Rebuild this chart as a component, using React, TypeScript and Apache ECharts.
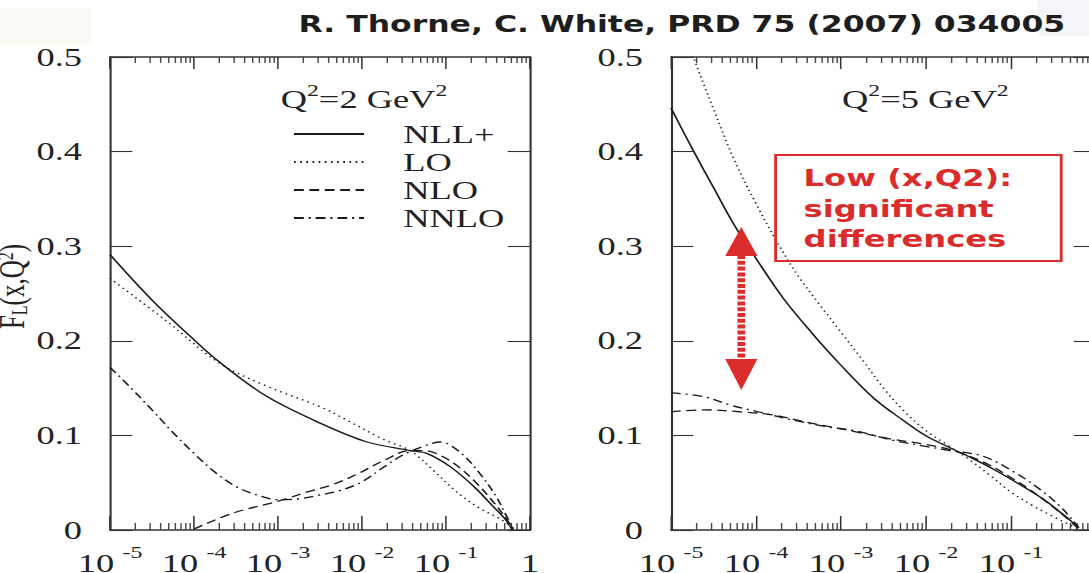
import React, { useEffect, useRef } from "react";
import * as echarts from "echarts";

// The reference image is horizontally stretched; we draw in an unstretched frame and scale it.
const STRETCH = 1.4;
const CHART_W = 1089 / STRETCH;
const CHART_H = 573;

const SERIF = "'Liberation Serif', 'Times New Roman', serif";
const INK = "#1b1b1b";
const RED = "#dc2b2b";

const seriesNames = ["NLL+", "LO", "NLO", "NNLO"];
const titleText = "R. Thorne, C. White, PRD 75 (2007) 034005";
const noteLines = ["Low (x,Q2):", "significant", "differences"];
const panelQ2 = ["2", "5"];

// ---------- Q^2 = 2 GeV^2 ----------
const q2a_NLL_x = [1e-5, 3.16e-5, 1e-4, 2.04e-4, 7.41e-4, 3.16e-3, 1.15e-2, 3.72e-2, 5.89e-2, 0.112, 0.214, 0.363, 0.501, 0.617];
const q2a_NLL_y = [0.291, 0.243, 0.201, 0.177, 0.141, 0.113, 0.093, 0.084, 0.081, 0.067, 0.046, 0.025, 0.012, 0.0];

const q2a_LO_x = [1e-5, 4.68e-5, 2.04e-4, 7.41e-4, 3.24e-3, 6.03e-3, 1.78e-2, 3.72e-2, 7.08e-2, 0.135, 0.251, 0.437, 0.631];
const q2a_LO_y = [0.266, 0.221, 0.176, 0.152, 0.13, 0.118, 0.096, 0.084, 0.063, 0.04, 0.023, 0.012, 0.002];

const q2a_NLO_x = [1e-4, 2.95e-4, 1.05e-3, 2.19e-3, 4.47e-3, 8.71e-3, 1.78e-2, 3.72e-2, 5.62e-2, 8.51e-2, 0.135, 0.234, 0.363, 0.501, 0.631];
const q2a_NLO_y = [0.001, 0.018, 0.031, 0.04, 0.048, 0.059, 0.073, 0.084, 0.084, 0.079, 0.068, 0.049, 0.03, 0.014, 0.001];

const q2a_NNLO_x = [1e-5, 1.78e-5, 3.16e-5, 5.62e-5, 1e-4, 1.78e-4, 3.16e-4, 5.62e-4, 1e-3, 1.78e-3, 3.16e-3, 5.62e-3, 1e-2, 1.78e-2, 3.16e-2, 5.62e-2, 8.51e-2, 0.148, 0.251, 0.398, 0.501, 0.631];
const q2a_NNLO_y = [0.172, 0.15, 0.127, 0.103, 0.081, 0.061, 0.046, 0.037, 0.032, 0.033, 0.037, 0.042, 0.051, 0.066, 0.08, 0.089, 0.093, 0.082, 0.06, 0.035, 0.018, 0.002];

// ---------- Q^2 = 5 GeV^2 ----------
const q2b_NLL_x = [1e-5, 1.78e-5, 3.16e-5, 5.5e-5, 1e-4, 2.09e-4, 4.47e-4, 9.55e-4, 2.45e-3, 5.37e-3, 1.02e-2, 1.91e-2, 3.47e-2, 6.31e-2, 0.112, 0.186, 0.282, 0.389, 0.501, 0.617];
const q2b_NLL_y = [0.446, 0.403, 0.362, 0.323, 0.287, 0.245, 0.209, 0.176, 0.139, 0.116, 0.099, 0.087, 0.076, 0.064, 0.051, 0.039, 0.028, 0.018, 0.01, 0.002];

const q2b_LO_x = [1e-5, 1.78e-5, 3.16e-5, 5.62e-5, 1e-4, 1.78e-4, 3.16e-4, 5.62e-4, 1e-3, 1.78e-3, 3.16e-3, 5.62e-3, 1e-2, 1.78e-2, 3.16e-2, 5.62e-2, 0.1, 0.178, 0.316, 0.501, 0.631];
const q2b_LO_y = [0.565, 0.503, 0.445, 0.39, 0.345, 0.304, 0.268, 0.238, 0.209, 0.18, 0.15, 0.125, 0.105, 0.09, 0.075, 0.058, 0.04, 0.026, 0.014, 0.005, 0.001];

const q2b_NLO_x = [1e-5, 2.4e-5, 6.46e-5, 1.48e-4, 4.47e-4, 1.45e-3, 3.98e-3, 9.12e-3, 1.91e-2, 4.68e-2, 0.115, 0.234, 0.407, 0.631];
const q2b_NLO_y = [0.125, 0.127, 0.125, 0.122, 0.113, 0.104, 0.096, 0.091, 0.085, 0.072, 0.052, 0.033, 0.016, 0.001];

const q2b_NNLO_x = [1e-5, 2.4e-5, 5.01e-5, 1.05e-4, 2.82e-4, 6.92e-4, 1.45e-3, 3.98e-3, 9.12e-3, 1.91e-2, 4.68e-2, 0.115, 0.234, 0.407, 0.631];
const q2b_NNLO_y = [0.145, 0.141, 0.132, 0.125, 0.116, 0.109, 0.105, 0.095, 0.089, 0.084, 0.078, 0.06, 0.041, 0.022, 0.002];

// minor tick positions of the log axis (2..9 x each decade)
const minorMultipliers = [2, 3, 4, 5, 6, 7, 8, 9];
const decades = [1e-5, 1e-4, 1e-3, 1e-2, 1e-1];
const minorTickX: number[] = [];
decades.forEach((d) => minorMultipliers.forEach((m) => minorTickX.push(m * d)));

const lineTypes: Record<string, any> = {
  "NLL+": "solid",
  LO: [1.2, 3.2],
  NLO: [7, 4],
  NNLO: [7, 3.5, 1.5, 3.5],
};

const zip = (xs: number[], ys: number[]) => xs.map((x, i) => [x, ys[i]]);

const panels = [
  [
    ["NLL+", q2a_NLL_x, q2a_NLL_y],
    ["LO", q2a_LO_x, q2a_LO_y],
    ["NLO", q2a_NLO_x, q2a_NLO_y],
    ["NNLO", q2a_NNLO_x, q2a_NNLO_y],
  ],
  [
    ["NLL+", q2b_NLL_x, q2b_NLL_y],
    ["LO", q2b_LO_x, q2b_LO_y],
    ["NLO", q2b_NLO_x, q2b_NLO_y],
    ["NNLO", q2b_NNLO_x, q2b_NNLO_y],
  ],
] as [string, number[], number[]][][];

const gridBoxes = [
  { left: 78.6, top: 57, width: 300, height: 473 },
  { left: 479.3, top: 57, width: 303.6, height: 473 },
];

function buildOption(): any {
  const xAxes: any[] = [];
  const yAxes: any[] = [];
  gridBoxes.forEach((_, g) => {
    const baseX = {
      type: "log",
      logBase: 10,
      min: 1e-5,
      max: 1,
      gridIndex: g,
      splitLine: { show: false },
      axisLine: { show: true, onZero: false, lineStyle: { color: "#333", width: 1.5 } },
      axisTick: { show: true, inside: true, length: 14, lineStyle: { color: "#333", width: 1.1 } },
    };
    xAxes.push({
      ...baseX,
      position: "bottom",
      axisLabel: {
        show: true,
        margin: 14,
        showMinLabel: true,
        showMaxLabel: true,
        formatter: (v: number) => {
          const e = Math.round(Math.log10(v));
          return e === 0 ? "{a|1}" : `{a|10}{b|${e}}`;
        },
        rich: {
          a: { fontFamily: SERIF, fontSize: 26, lineHeight: 32, verticalAlign: "bottom", color: "#222" },
          b: { fontFamily: SERIF, fontSize: 17, lineHeight: 4, verticalAlign: "top", padding: [0, 0, 0, 6], color: "#222" },
        },
      },
    });
    xAxes.push({ ...baseX, position: "top", axisLabel: { show: false }, axisTick: { ...baseX.axisTick, length: 12 } });

    const baseY = {
      type: "value",
      min: 0,
      max: 0.5,
      interval: 0.1,
      gridIndex: g,
      splitLine: { show: false },
      axisLine: { show: true, onZero: false, lineStyle: { color: "#333", width: 1.5 } },
      axisTick: { show: true, inside: true, length: 16, lineStyle: { color: "#333", width: 1.1 } },
    };
    yAxes.push({
      ...baseY,
      position: "left",
      axisLabel: {
        show: true,
        margin: 20,
        fontFamily: SERIF,
        fontSize: 26,
        color: "#222",
        formatter: (v: number) => (v === 0 ? "0" : v.toFixed(1)),
      },
      ...(g === 0
        ? {
            name: "{f|F}{l|L}{f|(x,Q}{s|2}{f|)}",
            nameLocation: "middle",
            nameRotate: 90,
            nameGap: 48,
            nameTextStyle: {
              padding: [0, 0, 0, 14],
              rich: {
                f: { fontFamily: SERIF, fontSize: 25, lineHeight: 26, color: "#222" },
                l: { fontFamily: SERIF, fontSize: 16, lineHeight: 8, verticalAlign: "bottom", color: "#222" },
                s: { fontFamily: SERIF, fontSize: 16, lineHeight: 8, verticalAlign: "top", color: "#222" },
              },
            },
          }
        : {}),
    });
    yAxes.push({ ...baseY, position: "right", axisLabel: { show: false } });
  });

  const series: any[] = [];
  panels.forEach((curves, g) => {
    curves.forEach(([name, xs, ys]) => {
      series.push({
        type: "line",
        name,
        xAxisIndex: g * 2,
        yAxisIndex: g * 2,
        data: zip(xs, ys),
        symbol: "none",
        showSymbol: false,
        smooth: 0.35,
        clip: true,
        silent: true,
        lineStyle: { color: INK, width: 1.3, type: lineTypes[name] },
        itemStyle: { color: INK },
        z: 3,
      });
    });
    series.push({
      type: "custom",
      name: "minorTicks" + g,
      coordinateSystem: "cartesian2d",
      xAxisIndex: g * 2,
      yAxisIndex: g * 2,
      silent: true,
      clip: false,
      data: minorTickX.map((x) => [x, 0]),
      encode: { x: 0, y: 1 },
      renderItem: (_p: any, api: any) => {
        const x = api.value(0);
        const b = api.coord([x, 0]);
        const t = api.coord([x, 0.5]);
        const st = { stroke: "#444", lineWidth: 1 };
        return {
          type: "group",
          children: [
            { type: "line", shape: { x1: b[0], y1: b[1], x2: b[0], y2: b[1] - 7 }, style: st },
            { type: "line", shape: { x1: t[0], y1: t[1], x2: t[0], y2: t[1] + 6 }, style: st },
          ],
        };
      },
    });
  });

  const q2Label = (v: string) => `{a|Q}{s|2}{a|=${v} GeV}{s|2}`;
  const q2Rich = {
    a: { fontFamily: SERIF, fontSize: 26, lineHeight: 30, verticalAlign: "bottom", fill: "#222" },
    s: { fontFamily: SERIF, fontSize: 17, lineHeight: 8, verticalAlign: "top", fill: "#222" },
  };

  const ax = 529.5;
  const graphic: any[] = [
    { type: "rect", shape: { x: 0, y: 8, width: 66, height: 36 }, style: { fill: "#fbfbf5" }, silent: true, z: 0 },
    { type: "rect", shape: { x: 741, y: 0, width: 40, height: 36 }, style: { fill: "#f4f5f8" }, silent: true, z: 0 },
    {
      type: "text",
      x: 487,
      y: 24,
      style: {
        text: titleText,
        fontFamily: "'DejaVu Sans', sans-serif",
        fontWeight: "bold",
        fontSize: 22.5,
        fill: "#1e1e1e",
        align: "center",
        verticalAlign: "middle",
      },
    },
    { type: "text", x: 260, y: 97, style: { text: q2Label(panelQ2[0]), rich: q2Rich, align: "center", verticalAlign: "middle" } },
    { type: "text", x: 661, y: 97, style: { text: q2Label(panelQ2[1]), rich: q2Rich, align: "center", verticalAlign: "middle" } },
    {
      type: "rect",
      shape: { x: 554, y: 155, width: 204, height: 106 },
      style: { fill: "none", stroke: RED, lineWidth: 2 },
      z: 10,
    },
    {
      type: "text",
      x: 574,
      y: 163,
      z: 10,
      style: {
        text: noteLines.join("\n"),
        fontFamily: "'DejaVu Sans', sans-serif",
        fontWeight: "bold",
        fontSize: 23,
        lineHeight: 30.5,
        fill: RED,
        align: "left",
        verticalAlign: "top",
      },
    },
    {
      type: "line",
      z: 10,
      shape: { x1: ax, y1: 255, x2: ax, y2: 360 },
      style: { stroke: RED, lineWidth: 5.5, lineDash: [4, 1.8] },
    },
    {
      type: "polygon",
      z: 10,
      shape: { points: [[ax, 227], [ax - 11.5, 256], [ax + 11.5, 256]] },
      style: { fill: RED },
    },
    {
      type: "polygon",
      z: 10,
      shape: { points: [[ax, 390], [ax - 11.5, 359], [ax + 11.5, 359]] },
      style: { fill: RED },
    },
  ];

  return {
    animation: false,
    backgroundColor: "#ffffff",
    textStyle: { fontFamily: SERIF },
    grid: gridBoxes.map((b) => ({ ...b, containLabel: false, outerBoundsMode: "none" })),
    xAxis: xAxes,
    yAxis: yAxes,
    legend: {
      data: seriesNames,
      orient: "vertical",
      left: 204,
      top: 115,
      itemWidth: 50,
      itemHeight: 14,
      itemGap: 0,
      selectedMode: false,
      itemStyle: { opacity: 0 },
      textStyle: { fontFamily: SERIF, fontSize: 26, color: "#222", lineHeight: 28, padding: [0, 0, 0, 23] },
    },
    series,
    graphic,
  };
}

export default function App() {
  const ref = useRef<HTMLDivElement>(null);
  useEffect(() => {
    if (!ref.current) return;
    const chart = echarts.init(ref.current, null, { renderer: "svg" });
    chart.setOption(buildOption());
    return () => chart.dispose();
  }, []);
  return (
    <div
      style={{
        position: "fixed",
        left: 0,
        top: 0,
        width: 1089,
        height: 573,
        overflow: "hidden",
        background: "#fff",
      }}
    >
      <div
        ref={ref}
        style={{ width: CHART_W, height: CHART_H, transform: `scaleX(${STRETCH})`, transformOrigin: "0 0" }}
      />
    </div>
  );
}
